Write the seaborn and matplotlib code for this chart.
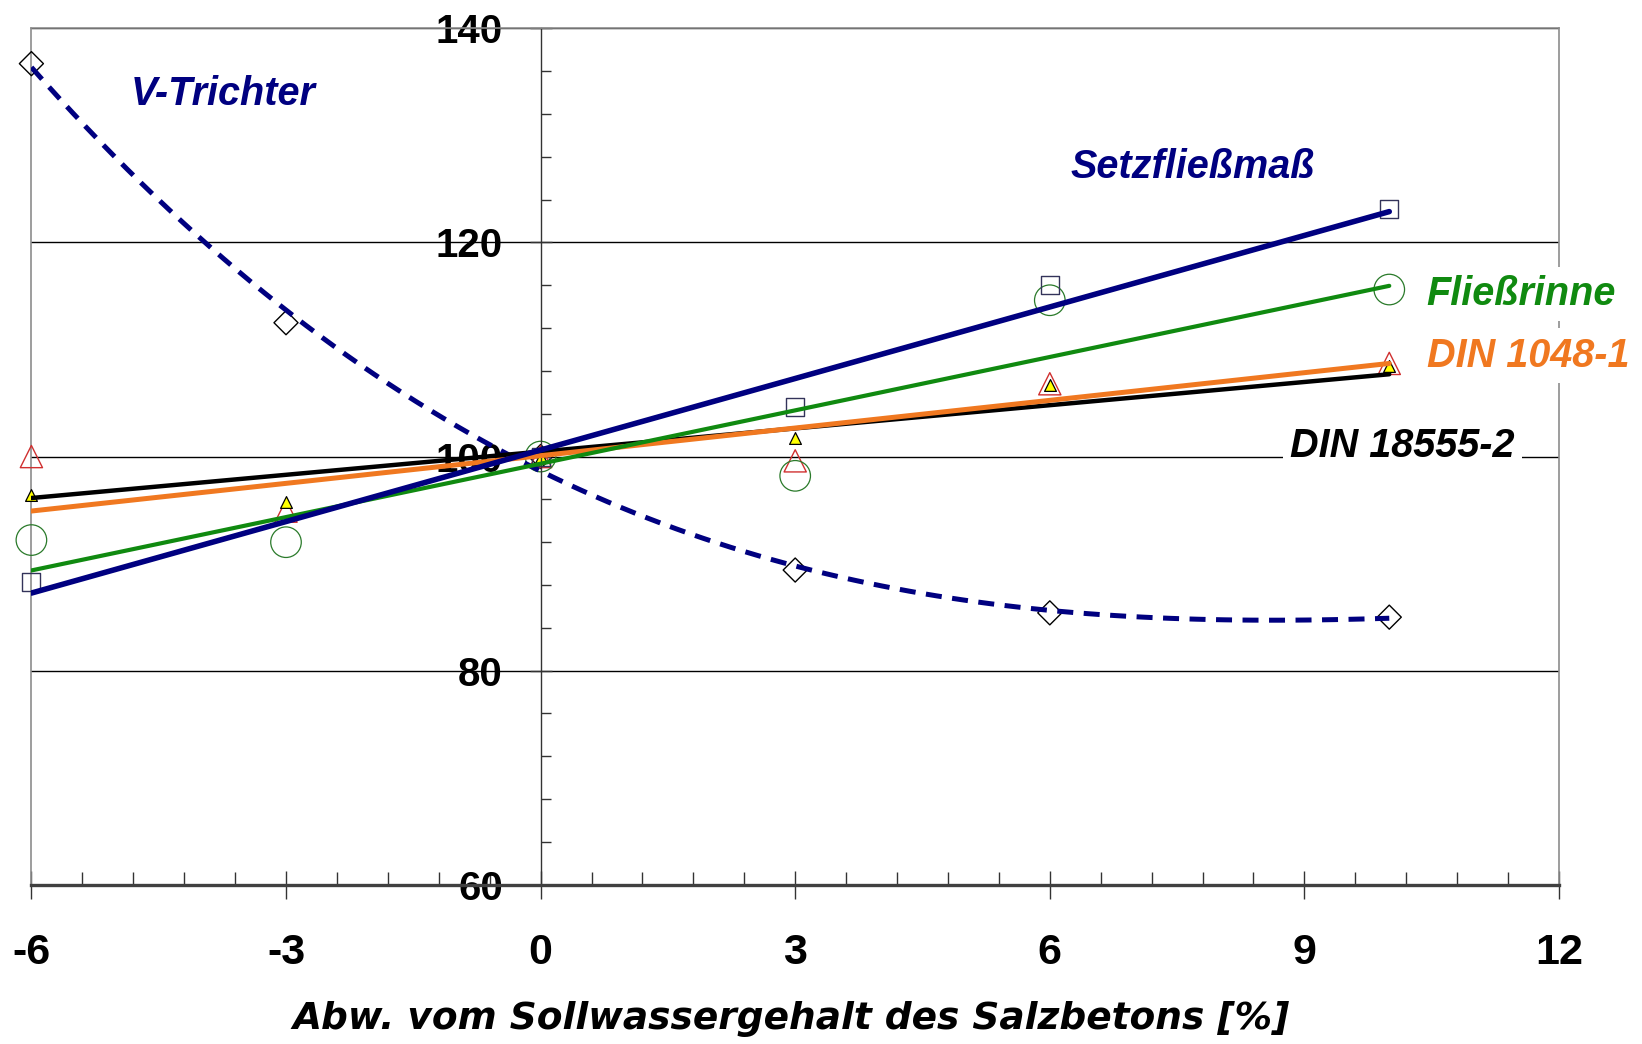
import numpy as np
import pandas as pd
import matplotlib
matplotlib.use("Agg")
import matplotlib.pyplot as plt
import seaborn as sns
from matplotlib.ticker import MultipleLocator, FixedLocator

# ---------------- data ----------------
x_all = [-6, -3, 0, 3, 6, 10]
x_setz = [-6, 0, 3, 6, 10]
setzfliessmass = [88.3, 100.0, 104.6, 116.0, 123.1]
fliessrinne = [92.2, 92.0, 100.0, 98.2, 114.6, 115.6]
din1048 = [96.4, 95.8, 100.0, 101.7, 106.7, 108.5]
din18555 = [100.0, 94.9, 100.0, 99.6, 106.8, 108.7]
v_trichter = [136.7, 112.5, 100.0, 89.4, 85.4, 85.0]

x_ticks = [-6, -3, 0, 3, 6, 9, 12]
y_ticks = [60, 80, 100, 120, 140]
x_label = "Abw. vom Sollwassergehalt des Salzbetons [%]"
series_labels = ["V-Trichter", "Setzfließmaß", "Fließrinne", "DIN 1048-1", "DIN 18555-2"]

# ---------------- style ----------------
sns.set_style("white")
plt.rcParams['font.family'] = ['Liberation Sans', 'DejaVu Sans']
plt.rcParams['axes.unicode_minus'] = False
plt.rcParams['text.color'] = 'black'
plt.rcParams['xtick.labelcolor'] = 'black'
plt.rcParams['ytick.labelcolor'] = 'black'

navy = '#000080'
green = '#108a10'
orange = '#f07820'

fig = plt.figure(figsize=(16.42, 10.44), dpi=100)
ax = fig.add_axes([31.4 / 1642, 1 - 884.8 / 1044, (1559 - 31.4) / 1642, (884.8 - 28.3) / 1044])

# V-Trichter (polynomial trend, dashed)
sns.regplot(x=x_all, y=v_trichter, order=3, ci=None, ax=ax, marker='D',
            scatter_kws=dict(s=150, facecolors='none', edgecolors='black',
                             linewidths=1.0, alpha=1, zorder=2, clip_on=False),
            line_kws=dict(color=navy, lw=3.6, dashes=(3.2, 2.1), zorder=3))

# DIN 18555-2 (red open triangles, black line)
sns.regplot(x=x_all, y=din18555, ci=None, ax=ax, marker='^',
            scatter_kws=dict(s=256, facecolors='none', edgecolors='#d03030',
                             linewidths=1.0, alpha=1, zorder=2, clip_on=False),
            line_kws=dict(color='black', lw=3.2, zorder=3))

# DIN 1048-1 (small yellow triangles, orange line)
sns.regplot(x=x_all, y=din1048, ci=None, ax=ax, marker='^',
            scatter_kws=dict(s=72, facecolors='#ffff00', edgecolors='black',
                             linewidths=0.9, alpha=1, zorder=2.2, clip_on=False),
            line_kws=dict(color=orange, lw=3.6, zorder=3))

# Fließrinne (green open circles)
sns.regplot(x=x_all, y=fliessrinne, ci=None, ax=ax, marker='o',
            scatter_kws=dict(s=484, facecolors='none', edgecolors='#2a7a2a',
                             linewidths=0.9, alpha=1, zorder=2, clip_on=False),
            line_kws=dict(color=green, lw=3.0, zorder=3))

# Setzfließmaß (open squares, navy line)
sns.regplot(x=x_setz, y=setzfliessmass, ci=None, ax=ax, marker='s',
            scatter_kws=dict(s=169, facecolors='none', edgecolors='#33335a',
                             linewidths=1.0, alpha=1, zorder=2, clip_on=False),
            line_kws=dict(color=navy, lw=4.0, zorder=3))

# ---------------- axes ----------------
ax.set_xlim(x_ticks[0], x_ticks[-1])
ax.set_ylim(y_ticks[0], y_ticks[-1])
ax.set_xlabel("")
ax.set_ylabel("")

ax.spines['left'].set_position(('data', 0))
ax.spines['left'].set_color('#333333')
ax.spines['left'].set_linewidth(1.0)
ax.spines['bottom'].set_color('#404040')
ax.spines['bottom'].set_linewidth(2.4)
for s in ['top', 'right']:
    ax.spines[s].set_visible(True)
    ax.spines[s].set_color('#8c8c8c')
    ax.spines[s].set_linewidth(1.2)
ax.axvline(x_ticks[0], color='#8c8c8c', lw=1.2, clip_on=False, zorder=1.5)

ax.xaxis.set_major_locator(FixedLocator(x_ticks))
ax.xaxis.set_minor_locator(MultipleLocator(0.6))
ax.yaxis.set_major_locator(FixedLocator(y_ticks))
ax.yaxis.set_minor_locator(MultipleLocator(4))
ax.set_xticklabels([str(v) for v in x_ticks])
ax.set_yticklabels([str(v) for v in y_ticks])

ax.tick_params(axis='x', which='major', bottom=True, direction='inout', length=20, width=1,
               color='#333333', pad=25, labelsize=31, labelcolor='black')
ax.tick_params(axis='x', which='minor', bottom=True, direction='in', length=9.5, width=1,
               color='#333333')
ax.tick_params(axis='y', which='major', left=True, direction='inout', length=16.5, width=1,
               color='#333333', pad=19, labelsize=29, labelcolor='black')
ax.tick_params(axis='y', which='minor', left=True, direction='in', length=7, width=1,
               color='#333333')
for lab in ax.get_xticklabels() + ax.get_yticklabels():
    lab.set_fontweight('bold')

ax.grid(axis='y', which='major', color='black', lw=1.0)
ax.grid(axis='x', visible=False)
ax.set_axisbelow(True)

# ---------------- in-plot labels ----------------
tkw = dict(fontsize=28.5, fontweight='bold', fontstyle='italic', ha='left', va='baseline')
ax.text(-4.83, 132.85, series_labels[0], color=navy, **tkw)
ax.text(6.24, 126.0, series_labels[1], color=navy, **tkw)
ax.text(10.44, 114.15, series_labels[2], color=green, clip_on=False, zorder=5,
        bbox=dict(facecolor='white', edgecolor='none', pad=6), **tkw)
ax.text(10.44, 108.4, series_labels[3], color=orange, clip_on=False, zorder=5,
        bbox=dict(facecolor='white', edgecolor='none', pad=6), **tkw)
ax.text(8.83, 100.0, series_labels[4], color='black', zorder=5,
        bbox=dict(facecolor='white', edgecolor='none', pad=5), **tkw)

fig.text(0.4817, 1 - 1029 / 1044, x_label, ha='center', va='baseline', color='black',
         fontsize=27, fontweight='bold', fontstyle='italic', family=['DejaVu Sans'])

fig.savefig("out.png", dpi=100, facecolor='white')
